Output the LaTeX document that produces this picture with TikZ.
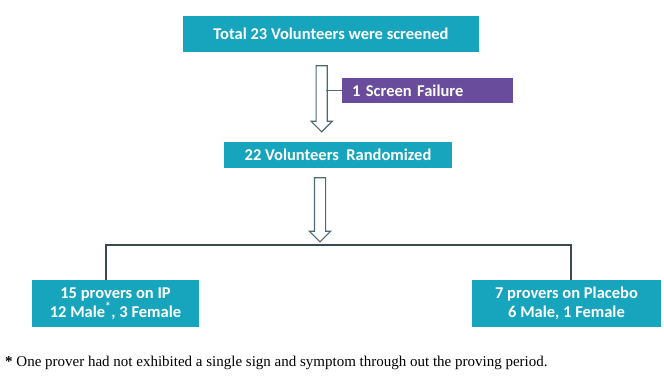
\documentclass[tikz,border=0pt]{standalone}
\usepackage{fontspec}
\setmainfont{Carlito}
\newfontfamily\notefont{Liberation Serif}
\usetikzlibrary{shapes.arrows,positioning}
\definecolor{teal}{HTML}{17A5BE}
\definecolor{plum}{HTML}{6A4C9C}
\definecolor{edge}{HTML}{3B4A52}
\definecolor{arrgrey}{HTML}{4F6973}
\tikzset{box/.style={fill=teal,text=white,font=\bfseries\fontsize{16.5}{19}\selectfont,align=center,inner sep=0pt},
fat/.style={single arrow,draw=arrgrey,line width=1.1pt,fill=white,inner xsep=0pt,inner ysep=5pt,single arrow head extend=5pt,rotate=-90},
conn/.style={draw=edge,line width=1.4pt}}

\begin{document}
\begin{tikzpicture}[x=1pt,y=-1pt]
\useasboundingbox[fill=white](0,0)rectangle(664,376);
\node[box,minimum width=296pt,minimum height=36pt](top)at(331,34){Total 23 Volunteers were screened};
\node[fat,minimum height=66pt](arrA)at(321.7,96){};
\node[box,fill=plum,minimum width=171pt,minimum height=25pt,text width=151pt,align=left](fail)at(427.5,90.5){1 Screen Failure};
\draw[conn,line width=1.1pt,draw=arrgrey](fail.west)--++(-15.5,0);
\node[box,minimum width=228pt,minimum height=26pt](rand)at(338,155){22 Volunteers\ \ Randomized};
\node[fat,minimum height=64pt](arrB)at(320,207){};
\node[box,minimum width=167pt,minimum height=47pt](ip)at(115.5,303.5){15 provers on IP\\12 Male\textsuperscript{*}, 3 Female};
\node[box,minimum width=189pt,minimum height=47pt](plac)at(566.5,303.5){7 provers on Placebo\\6 Male,\ 1 Female};
\coordinate(split)at(338,245);
\draw[conn]([xshift=-9.5pt]ip.north)|-(split)-|([xshift=4.5pt]plac.north);
\node[anchor=west,font=\notefont\fontsize{15}{17}\selectfont,inner sep=0pt](note)at(5,363){\textbf{*} One prover had not exhibited a single sign and symptom through out the proving period.};
\end{tikzpicture}
\end{document}
